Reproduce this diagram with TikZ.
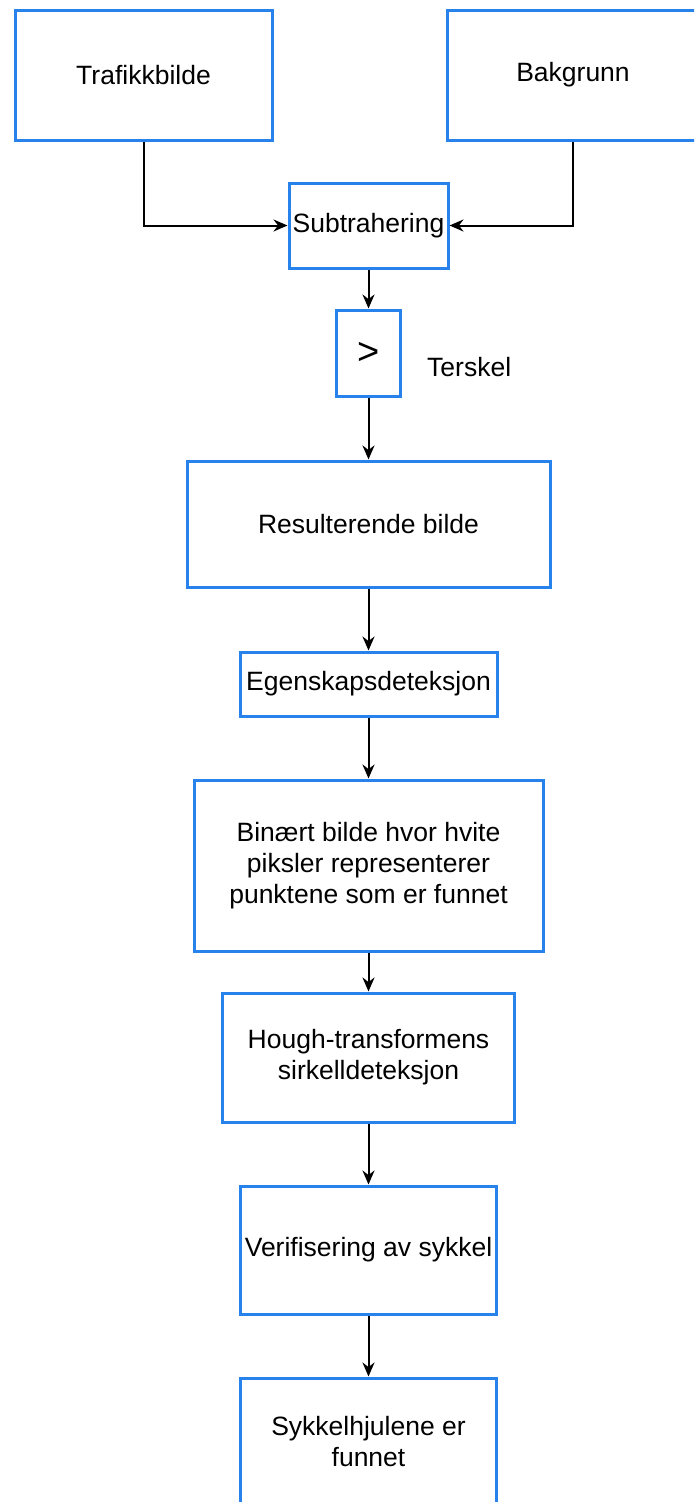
\documentclass[tikz,border=0pt]{standalone}
\usepackage{fontspec}
\setmainfont{Liberation Sans}
\usetikzlibrary{arrows.meta}
\definecolor{boxblue}{RGB}{40,130,235}
\begin{document}
\begin{tikzpicture}[x=1pt,y=-1pt,
  box/.style={draw=boxblue, line width=3pt, fill=white, inner sep=0pt, align=center,
    font=\fontsize{26.5}{31}\selectfont},
  conn/.style={line width=2pt, -{Stealth[length=14pt,width=12pt]}}]
\useasboundingbox (0,0) rectangle (694,1502);
\clip (0,0) rectangle (694,1502);
\fill[white] (0,0) rectangle (694,1502);

\node[box, minimum width=257pt, minimum height=130pt] (traf) at (143.5,75) {Trafikkbilde};
\node[box, minimum width=252pt, minimum height=130pt] (bak) at (573,75) {Bakgrunn};
\node[box, minimum width=159pt, minimum height=85pt] (sub) at (368.5,225.5) {Subtrahering};
\node[box, minimum width=64pt, minimum height=86pt, font=\fontsize{38}{40}\selectfont] (thr) at (368.5,353) {>};
\node[font=\fontsize{26.5}{31}\selectfont, anchor=west, inner sep=0pt] (tersk) at (427,367) {Terskel};
\node[box, minimum width=363pt, minimum height=126pt] (res) at (368.5,524) {Resulterende bilde};
\node[box, minimum width=257pt, minimum height=64pt] (ege) at (368.5,684) {Egenskapsdeteksjon};
\node[box, minimum width=349pt, minimum height=171pt] (bin) at (368.5,865.5) {Binært bilde hvor hvite\\piksler representerer\\punktene som er funnet};
\node[box, minimum width=292pt, minimum height=129pt] (hough) at (368.5,1057.5) {Hough-transformens\\sirkelldeteksjon};
\node[box, minimum width=256pt, minimum height=128pt] (ver) at (368.5,1250) {Verifisering av sykkel};
\node[box, minimum width=256pt, minimum height=128pt] (syk) at (368.5,1442) {Sykkelhjulene er\\funnet};

\draw[conn] (traf.south) |- (sub.west);
\draw[conn] (bak.south) |- (sub.east);
\draw[conn] (sub.south) -- (thr.north);
\draw[conn] (thr.south) -- (res.north);
\draw[conn] (res.south) -- (ege.north);
\draw[conn] (ege.south) -- (bin.north);
\draw[conn] (bin.south) -- (hough.north);
\draw[conn] (hough.south) -- (ver.north);
\draw[conn] (ver.south) -- (syk.north);
\end{tikzpicture}
\end{document}
